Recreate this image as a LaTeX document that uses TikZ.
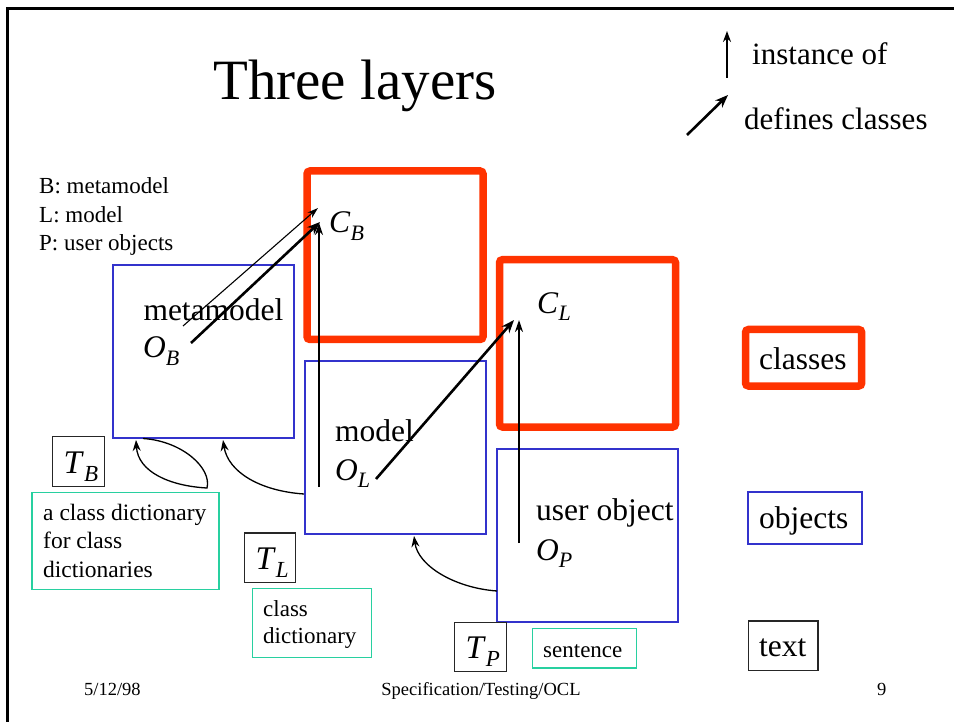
\documentclass[tikz,border=0pt]{standalone}
\usepackage{fontspec}
\setmainfont{Liberation Serif}
\usetikzlibrary{arrows.meta}
\definecolor{boxred}{RGB}{255,51,0}
\definecolor{boxblue}{RGB}{51,51,204}
\definecolor{boxgreen}{RGB}{40,208,160}
\newcommand\fsz[1]{\fontsize{#1}{#1}\selectfont}
% letter with italic subscript: #1 letter, #2 subscript, #3 subscript size
\newcommand\lab[3]{\textit{#1}\raisebox{-0.23em}{\fontsize{#3}{#3}\selectfont\textit{#2}}}
\tikzset{
  txt/.style={inner sep=0pt, anchor=base west},
  big/.style={txt, font=\fsz{31.5}},
  small/.style={txt, font=\fsz{23}},
  redbox/.style={draw=boxred, line width=7.5pt, rounded corners=3pt, inner sep=0pt},
  bluebox/.style={draw=boxblue, line width=2pt, inner sep=0pt},
  greenbox/.style={draw=boxgreen, line width=1.4pt, inner sep=0pt},
  blackbox/.style={draw=black!85, line width=1.4pt, inner sep=0pt},
  thickarr/.style={line width=2.6pt, -{Stealth[length=13pt,width=10pt]}},
  thinarr/.style={line width=1.1pt, -{Stealth[length=11pt,width=7pt]}},
  vertarr/.style={line width=1.4pt, -{Stealth[length=12pt,width=8pt]}},
  curvearr/.style={line width=1.3pt, -{Stealth[length=11pt,width=8pt]}},
}
\begin{document}
\begin{tikzpicture}[x=1pt,y=-1pt]
\useasboundingbox (0,0) rectangle (954,722);
\fill[white] (0,0) rectangle (954,722);
% frame
\draw[line width=2.2pt] (7.5,722) -- (7.5,8.5) -- (954,8.5);

% title and legend
\node[txt, font=\fsz{57}] (title) at (213,100) {Three layers};
\node[txt, font=\fsz{31}] (inst) at (752,65) {instance of};
\node[txt, font=\fsz{31}] (defs) at (744,130) {defines classes};
\coordinate (i1) at (727,78); \coordinate (i2) at (727,31);
\coordinate (d1) at (687,135); \coordinate (d2) at (728,95);
\draw[line width=2.2pt, -{Stealth[length=11pt,width=8pt]}] (i1) -- (i2);
\draw[line width=2.6pt, -{Stealth[length=13pt,width=10pt]}] (d1) -- (d2);

\node[small] (lb) at (39,193.3) {B: metamodel};
\node[small] (ll) at (39,222.3) {L: model};
\node[small] (lp) at (39,250.7) {P: user objects};

% boxes
\node[redbox, minimum width=176pt, minimum height=168.5pt] (CBbox) at (395,255.25) {};
\node[redbox, minimum width=176pt, minimum height=167.3pt] (CLbox) at (587.5,343.35) {};
\node[bluebox, minimum width=181pt, minimum height=173pt] (OBbox) at (203.5,351.5) {};
\node[bluebox, minimum width=181pt, minimum height=173.5pt] (OLbox) at (395.5,447.25) {};
\node[bluebox, minimum width=181pt, minimum height=173pt] (OPbox) at (587.5,535.5) {};

\node[redbox, minimum width=116.2pt, minimum height=56.5pt] (classesbox) at (803.6,357.75) {};
\node[bluebox, minimum width=113.5pt, minimum height=51.5pt] (objectsbox) at (804.75,517.75) {};
\node[blackbox, minimum width=69.5pt, minimum height=49.5pt] (textbox) at (783.25,645.75) {};

\node[blackbox, minimum width=52.2pt, minimum height=50pt] (TBbox) at (78.6,461.5) {};
\node[blackbox, minimum width=51.5pt, minimum height=49.5pt] (TLbox) at (270,557.75) {};
\node[blackbox, minimum width=52pt, minimum height=49pt] (TPbox) at (480.3,647) {};

\node[greenbox, minimum width=187pt, minimum height=97.2pt] (g1box) at (125.5,541.1) {};
\node[greenbox, minimum width=118.8pt, minimum height=69pt] (g2box) at (312,623) {};
\node[greenbox, minimum width=103.8pt, minimum height=39.5pt] (g3box) at (584.5,648.25) {};

% box texts
\node[big] (metamodel) at (143.3,321) {metamodel};
\node[big] (OB) at (143,358) {\lab{O}{B}{22}};
\node[big] (CB) at (329,233) {\lab{C}{B}{22}};
\node[big] (CL) at (537,313.5) {\lab{C}{L}{22}};
\node[big] (model) at (335,441) {model};
\node[big] (OL) at (335,480) {\lab{O}{L}{22}};
\node[big] (userobj) at (536,520) {user object};
\node[big] (OP) at (536,560) {\lab{O}{P}{22}};

\node[big] (classes) at (759,370) {classes};
\node[big] (objects) at (759,528) {objects};
\node[big] (text) at (759,656.7) {text};

\node[txt, font=\fsz{33}] (TB) at (63.5,473.5) {\lab{T}{B}{23}};
\node[txt, font=\fsz{33}] (TL) at (255.3,569.5) {\lab{T}{L}{23}};
\node[txt, font=\fsz{33}] (TP) at (465.3,658.5) {\lab{T}{P}{23}};

\node[small, font=\fsz{23.5}] (g1a) at (43,520) {a class dictionary};
\node[small, font=\fsz{23.5}] (g1b) at (43,548.5) {for class};
\node[small, font=\fsz{23.5}] (g1c) at (43,577) {dictionaries};
\node[small] (g2a) at (263,616) {class};
\node[small] (g2b) at (263,643) {dictionary};
\node[small] (g3) at (543,657) {sentence};

% footer
\node[txt, font=\fsz{18.5}] (date) at (84,695) {5/12/98};
\node[inner sep=0pt, anchor=base, font=\fsz{18.5}] (foot) at (481,695) {Specification/Testing/OCL};
\node[txt, font=\fsz{18.5}] (page) at (877,695) {9};

% connector endpoints
\coordinate (a1s) at (183,326); \coordinate (a1e) at (318,208);
\coordinate (a2s) at (191,343); \coordinate (a2e) at (320,222);
\coordinate (a3s) at (319,487); \coordinate (a3e) at (319,223);
\coordinate (a4s) at (376,479); \coordinate (a4e) at (514,320);
\coordinate (a5s) at (519,543); \coordinate (a5e) at (519,320);

\draw[thinarr] (a1s) -- (a1e);
\draw[thickarr] (a2s) -- (a2e);
\draw[vertarr, line width=1.3pt] (a3s) -- (a3e);
\draw[thickarr] (a4s) -- (a4e);
\draw[vertarr, line width=2.2pt] (a5s) -- (a5e);

% curved arrows
\coordinate (c1s) at (143,438.5); \coordinate (c1m) at (207,488); \coordinate (c1e) at (136,440);
\coordinate (c2s) at (304,494); \coordinate (c2e) at (223,440);
\coordinate (c3s) at (497,591); \coordinate (c3e) at (414,536);
\draw[curvearr] (c1s) .. controls (182,441) and (212,468) .. (c1m)
   .. controls (170,486) and (138,472) .. (c1e);
\draw[curvearr] (c2s) .. controls (260,491) and (228,472) .. (c2e);
\draw[curvearr] (c3s) .. controls (455,588) and (418,566) .. (c3e);
\end{tikzpicture}
\end{document}
